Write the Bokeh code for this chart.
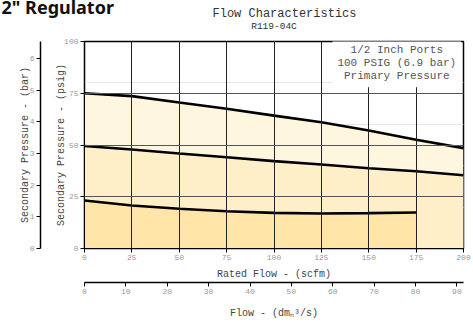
from bokeh.plotting import figure
from bokeh.models import Range1d, LinearAxis, Label, FixedTicker, Grid, Title
from bokeh.embed import file_html
from bokeh.resources import INLINE

# ---- data ----
scfm = [0, 25, 50, 75, 100, 125, 150, 175, 200]
curve_high = [75.0, 73.6, 70.5, 67.5, 64.2, 61.0, 57.0, 52.5, 48.5]
curve_mid = [49.5, 47.8, 45.9, 44.1, 42.2, 40.6, 38.8, 37.3, 35.4]
scfm_low = [0, 25, 50, 75, 100, 125, 150, 175]
curve_low = [23.2, 20.8, 19.2, 18.0, 17.2, 16.9, 17.1, 17.4]

psig_ticks = [0, 25, 50, 75, 100]
scfm_ticks = [0, 25, 50, 75, 100, 125, 150, 175, 200]
bar_ticks = [0, 1, 2, 3, 4, 5, 6]
dm_ticks = [0, 10, 20, 30, 40, 50, 60, 70, 80, 90]

title_text = "Flow Characteristics"
subtitle_text = "R119-04C"
heading_text = '2" Regulator'
note_text = "1/2 Inch Ports\n100 PSIG (6.9 bar)\nPrimary Pressure"

MONO = "Liberation Mono"

p = figure(width=473, height=324, output_backend="svg", toolbar_location=None,
           x_range=Range1d(0, 200), y_range=Range1d(0, 100),
           min_border_left=84, min_border_right=10, min_border_top=41,
           min_border_bottom=76, x_axis_location=None, y_axis_location=None)
p.extra_x_ranges = {"dm": Range1d(0, 91.6)}
p.extra_y_ranges = {"bar": Range1d(0, 6.53)}
p.outline_line_color = "black"
p.outline_line_width = 1.5
p.background_fill_color = "white"
p.border_fill_color = "white"

# bands
p.varea(x=scfm, y1=0, y2=curve_high, fill_color="#FFF6E0")
p.varea(x=scfm, y1=0, y2=curve_mid, fill_color="#FFEFC8")
p.varea(x=scfm_low, y1=0, y2=curve_low, fill_color="#FFE6A8")

# curves
p.line(scfm, curve_high, line_color="black", line_width=2.6)
p.line(scfm, curve_mid, line_color="black", line_width=2.6)
p.line(scfm_low, curve_low, line_color="black", line_width=2.6)

def style_axis(ax, ticks, label, lstand=2, tstand=5):
    ax.ticker = FixedTicker(ticks=ticks)
    ax.axis_label = label
    ax.axis_label_text_font = MONO
    ax.axis_label_text_font_size = "10px"
    ax.axis_label_text_font_style = "normal"
    ax.axis_label_text_color = "#444444"
    ax.axis_label_standoff = tstand
    ax.major_label_text_font = MONO
    ax.major_label_text_font_size = "8px"
    ax.major_label_text_color = "#999999"
    ax.major_label_standoff = lstand
    ax.major_tick_in = 0
    ax.major_tick_out = 4
    ax.minor_tick_out = 0
    ax.minor_tick_in = 0
    ax.axis_line_color = "black"
    ax.major_tick_line_color = "black"

ax_psig = LinearAxis()
style_axis(ax_psig, psig_ticks, "Secondary Pressure - (psig)", lstand=2, tstand=-6)
p.add_layout(ax_psig, "left")

# empty spacer between the two left axes
spacer = LinearAxis(ticker=FixedTicker(ticks=[]), axis_line_color=None, major_tick_out=0,
                    minor_tick_out=0, major_label_text_font_size="0px",
                    axis_label=" ", axis_label_text_font_size="10px", axis_label_standoff=-1)
p.add_layout(spacer, "left")

ax_bar = LinearAxis(y_range_name="bar")
style_axis(ax_bar, bar_ticks, "Secondary Pressure - (bar)", lstand=2, tstand=-4)
ax_bar.axis_line_width = 1.5
p.add_layout(ax_bar, "left")

ax_scfm = LinearAxis()
style_axis(ax_scfm, scfm_ticks, "Rated Flow - (scfm)", lstand=2, tstand=6)
p.add_layout(ax_scfm, "below")
ax_dm = LinearAxis(x_range_name="dm")
style_axis(ax_dm, dm_ticks, "Flow - (dmₙ³/s)", lstand=2, tstand=11)
ax_dm.axis_line_width = 1.5
p.add_layout(ax_dm, "below")

# grids drawn over the bands
gx = Grid(dimension=0, ticker=FixedTicker(ticks=scfm_ticks), grid_line_color="#222222",
          grid_line_width=1, level="guide")
gy = Grid(dimension=1, ticker=FixedTicker(ticks=psig_ticks), grid_line_color="#555555",
          grid_line_width=1, level="guide")
p.add_layout(gx, "center")
p.add_layout(gy, "center")

# titles, stacked outward from the frame: subtitle, heading, title
p.add_layout(Title(text=subtitle_text, align="center", text_font=MONO, text_font_size="9.5px",
                   text_font_style="normal", text_color="#333333", standoff=20), "above")
p.add_layout(Title(text=heading_text, align="left", offset=-83, text_font="Noto Sans",
                   text_font_size="18px", text_font_style="bold", text_color="#111111",
                   standoff=-21), "above")
p.add_layout(Title(text=title_text, align="left", offset=128, text_font=MONO,
                   text_font_size="12px", text_font_style="normal", text_color="#333333",
                   standoff=-34), "above")

p.add_layout(Label(x=164.8, y=89.6, text=note_text, text_align="center", text_baseline="middle",
                   text_font=MONO, text_font_size="11px", text_color="#555555",
                   text_line_height=1.1, background_fill_color="white", padding=5))

open("out.html", "w").write(file_html(p, INLINE))
